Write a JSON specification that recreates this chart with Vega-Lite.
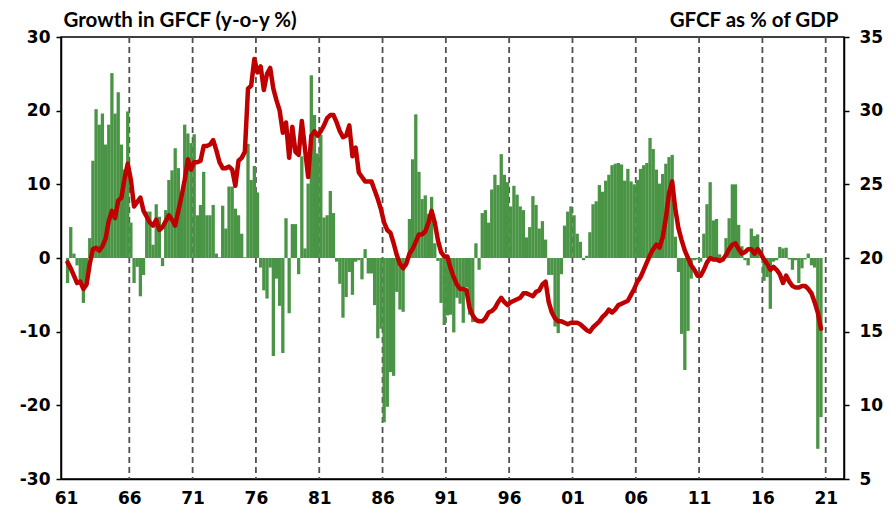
{
  "$schema": "https://vega.github.io/schema/vega-lite/v6.json",
  "width": 783,
  "height": 442,
  "autosize": {"type": "none"},
  "padding": {"left": 61, "top": 37, "right": 51, "bottom": 34},
  "background": "white",
  "config": {
    "view": {"stroke": "black", "strokeWidth": 1.5},
    "axis": {"labelFont": "DejaVu Sans", "labelFontWeight": "bold", "labelFontSize": 17, "labelColor": "black", "domainColor": "black", "domainWidth": 1.5, "tickColor": "black", "tickWidth": 1.5, "grid": false, "titleColor": "black"}
  },
  "datasets": {
    "years": [{"yr":1966},{"yr":1971},{"yr":1976},{"yr":1981},{"yr":1986},{"yr":1991},{"yr":1996},{"yr":2001},{"yr":2006},{"yr":2011},{"yr":2016},{"yr":2021}],
    "q": [
      {"t":1961.125,"g":-3.4,"s":19.7},{"t":1961.375,"g":4.2,"s":19.3},{"t":1961.625,"g":0.6,"s":18.8},{"t":1961.875,"g":-1.0,"s":18.3},
      {"t":1962.125,"g":-3.5,"s":18.4},{"t":1962.375,"g":-6.1,"s":17.9},{"t":1962.625,"g":-3.0,"s":18.2},{"t":1962.875,"g":2.7,"s":19.6},
      {"t":1963.125,"g":13.2,"s":20.6},{"t":1963.375,"g":20.2,"s":20.7},{"t":1963.625,"g":18.1,"s":20.5},{"t":1963.875,"g":19.6,"s":20.8},
      {"t":1964.125,"g":15.4,"s":21.3},{"t":1964.375,"g":18.1,"s":22.5},{"t":1964.625,"g":25.1,"s":23.2},{"t":1964.875,"g":19.6,"s":22.7},
      {"t":1965.125,"g":22.5,"s":23.9},{"t":1965.375,"g":15.4,"s":24.1},{"t":1965.625,"g":12.0,"s":25.4},{"t":1965.875,"g":19.9,"s":26.4},
      {"t":1966.125,"g":4.8,"s":25.3},{"t":1966.375,"g":-3.4,"s":23.5},{"t":1966.625,"g":-1.2,"s":23.8},{"t":1966.875,"g":-5.2,"s":24.1},
      {"t":1967.125,"g":-2.3,"s":23.2},{"t":1967.375,"g":6.3,"s":22.8},{"t":1967.625,"g":6.3,"s":22.4},{"t":1967.875,"g":1.8,"s":22.2},
      {"t":1968.125,"g":7.3,"s":22.6},{"t":1968.375,"g":5.6,"s":21.9},{"t":1968.625,"g":-1.1,"s":22.1},{"t":1968.875,"g":6.5,"s":22.5},
      {"t":1969.125,"g":10.6,"s":22.9},{"t":1969.375,"g":11.9,"s":22.6},{"t":1969.625,"g":14.9,"s":22.2},{"t":1969.875,"g":12.2,"s":23.2},
      {"t":1970.125,"g":8.0,"s":24.2},{"t":1970.375,"g":18.1,"s":25.3},{"t":1970.625,"g":16.9,"s":26.7},{"t":1970.875,"g":15.6,"s":26.0},
      {"t":1971.125,"g":16.8,"s":26.5},{"t":1971.375,"g":5.8,"s":26.5},{"t":1971.625,"g":7.2,"s":26.6},{"t":1971.875,"g":11.7,"s":27.6},
      {"t":1972.125,"g":5.8,"s":27.6},{"t":1972.375,"g":5.8,"s":27.7},{"t":1972.625,"g":7.2,"s":28.0},{"t":1972.875,"g":0.6,"s":27.3},
      {"t":1973.125,"g":0.1,"s":26.5},{"t":1973.375,"g":7.1,"s":26.1},{"t":1973.625,"g":4.0,"s":26.1},{"t":1973.875,"g":9.7,"s":26.2},
      {"t":1974.125,"g":9.7,"s":26.0},{"t":1974.375,"g":6.7,"s":24.9},{"t":1974.625,"g":5.8,"s":26.6},{"t":1974.875,"g":3.3,"s":26.8},
      {"t":1975.125,"g":0.1,"s":27.2},{"t":1975.375,"g":15.5,"s":31.5},{"t":1975.625,"g":10.6,"s":31.7},{"t":1975.875,"g":12.5,"s":33.5},
      {"t":1976.125,"g":8.9,"s":32.6},{"t":1976.375,"g":-1.3,"s":33.0},{"t":1976.625,"g":-4.4,"s":31.4},{"t":1976.875,"g":-5.5,"s":32.5},
      {"t":1977.125,"g":-1.3,"s":32.9},{"t":1977.375,"g":-13.3,"s":31.5},{"t":1977.625,"g":-2.8,"s":30.7},{"t":1977.875,"g":-6.5,"s":30.0},
      {"t":1978.125,"g":-12.9,"s":28.5},{"t":1978.375,"g":5.4,"s":29.2},{"t":1978.625,"g":-7.5,"s":26.8},{"t":1978.875,"g":4.6,"s":28.9},
      {"t":1979.125,"g":4.6,"s":27.2},{"t":1979.375,"g":-2.2,"s":27.0},{"t":1979.625,"g":13.8,"s":29.3},{"t":1979.875,"g":1.3,"s":27.4},
      {"t":1980.125,"g":10.1,"s":25.5},{"t":1980.375,"g":24.8,"s":28.3},{"t":1980.625,"g":19.4,"s":28.6},{"t":1980.875,"g":14.2,"s":28.3},
      {"t":1981.125,"g":16.7,"s":28.6},{"t":1981.375,"g":5.5,"s":29.0},{"t":1981.625,"g":5.8,"s":29.5},{"t":1981.875,"g":9.1,"s":29.7},
      {"t":1982.125,"g":6.1,"s":29.7},{"t":1982.375,"g":-0.5,"s":29.2},{"t":1982.625,"g":-3.5,"s":28.6},{"t":1982.875,"g":-8.1,"s":28.2},
      {"t":1983.125,"g":-5.3,"s":28.3},{"t":1983.375,"g":-1.9,"s":29.0},{"t":1983.625,"g":-5.0,"s":26.9},{"t":1983.875,"g":-0.5,"s":27.5},
      {"t":1984.125,"g":-0.3,"s":25.8},{"t":1984.375,"g":-2.9,"s":25.5},{"t":1984.625,"g":1.2,"s":25.2},{"t":1984.875,"g":-2.1,"s":25.2},
      {"t":1985.125,"g":-2.1,"s":25.2},{"t":1985.375,"g":-6.4,"s":24.6},{"t":1985.625,"g":-10.9,"s":24.0},{"t":1985.875,"g":-9.6,"s":23.3},
      {"t":1986.125,"g":-22.3,"s":22.4},{"t":1986.375,"g":-20.2,"s":21.9},{"t":1986.625,"g":-15.5,"s":21.7},{"t":1986.875,"g":-16.0,"s":21.0},
      {"t":1987.125,"g":-4.6,"s":20.2},{"t":1987.375,"g":-7.0,"s":19.6},{"t":1987.625,"g":-7.3,"s":19.3},{"t":1987.875,"g":-1.0,"s":19.6},
      {"t":1988.125,"g":5.3,"s":20.3},{"t":1988.375,"g":13.4,"s":20.6},{"t":1988.625,"g":19.5,"s":21.1},{"t":1988.875,"g":11.7,"s":21.6},
      {"t":1989.125,"g":8.0,"s":21.6},{"t":1989.375,"g":8.5,"s":21.8},{"t":1989.625,"g":6.0,"s":22.4},{"t":1989.875,"g":8.3,"s":23.2},
      {"t":1990.125,"g":2.0,"s":22.4},{"t":1990.375,"g":-0.4,"s":21.2},{"t":1990.625,"g":-6.1,"s":20.4},{"t":1990.875,"g":-9.1,"s":20.1},
      {"t":1991.125,"g":-7.8,"s":20.1},{"t":1991.375,"g":-7.7,"s":19.3},{"t":1991.625,"g":-10.1,"s":18.7},{"t":1991.875,"g":-5.4,"s":18.2},
      {"t":1992.125,"g":-6.2,"s":17.9},{"t":1992.375,"g":-8.8,"s":17.9},{"t":1992.625,"g":-4.0,"s":17.8},{"t":1992.875,"g":-7.7,"s":16.6},
      {"t":1993.125,"g":-8.7,"s":16.1},{"t":1993.375,"g":2.0,"s":15.8},{"t":1993.625,"g":-1.6,"s":15.7},{"t":1993.875,"g":6.1,"s":15.7},
      {"t":1994.125,"g":6.5,"s":15.9},{"t":1994.375,"g":4.8,"s":16.3},{"t":1994.625,"g":9.3,"s":16.4},{"t":1994.875,"g":11.3,"s":16.6},
      {"t":1995.125,"g":9.9,"s":17.0},{"t":1995.375,"g":14.1,"s":17.3},{"t":1995.625,"g":11.3,"s":17.0},{"t":1995.875,"g":10.3,"s":16.8},
      {"t":1996.125,"g":7.0,"s":17.0},{"t":1996.375,"g":9.8,"s":17.1},{"t":1996.625,"g":8.6,"s":17.2},{"t":1996.875,"g":7.0,"s":17.3},
      {"t":1997.125,"g":6.5,"s":17.6},{"t":1997.375,"g":2.8,"s":17.6},{"t":1997.625,"g":4.2,"s":17.5},{"t":1997.875,"g":8.4,"s":17.4},
      {"t":1998.125,"g":7.2,"s":17.7},{"t":1998.375,"g":4.0,"s":17.8},{"t":1998.625,"g":5.0,"s":18.2},{"t":1998.875,"g":2.5,"s":18.4},
      {"t":1999.125,"g":-2.3,"s":17.0},{"t":1999.375,"g":-2.3,"s":16.3},{"t":1999.625,"g":-9.3,"s":15.9},{"t":1999.875,"g":-10.2,"s":15.7},
      {"t":2000.125,"g":-2.2,"s":15.7},{"t":2000.375,"g":4.4,"s":15.6},{"t":2000.625,"g":6.3,"s":15.5},{"t":2000.875,"g":7.0,"s":15.6},
      {"t":2001.125,"g":5.8,"s":15.6},{"t":2001.375,"g":3.3,"s":15.6},{"t":2001.625,"g":2.2,"s":15.5},{"t":2001.875,"g":-0.3,"s":15.3},
      {"t":2002.125,"g":0.3,"s":15.1},{"t":2002.375,"g":3.5,"s":15.0},{"t":2002.625,"g":7.3,"s":15.3},{"t":2002.875,"g":7.7,"s":15.5},
      {"t":2003.125,"g":9.9,"s":15.7},{"t":2003.375,"g":9.0,"s":16.0},{"t":2003.625,"g":10.5,"s":16.2},{"t":2003.875,"g":11.3,"s":16.5},
      {"t":2004.125,"g":12.6,"s":16.3},{"t":2004.375,"g":12.8,"s":16.5},{"t":2004.625,"g":12.9,"s":16.8},{"t":2004.875,"g":12.7,"s":16.9},
      {"t":2005.125,"g":10.5,"s":17.0},{"t":2005.375,"g":12.1,"s":17.1},{"t":2005.625,"g":10.4,"s":17.5},{"t":2005.875,"g":10.0,"s":17.9},
      {"t":2006.125,"g":10.6,"s":18.4},{"t":2006.375,"g":12.1,"s":18.7},{"t":2006.625,"g":12.6,"s":19.2},{"t":2006.875,"g":12.9,"s":19.7},
      {"t":2007.125,"g":16.3,"s":20.2},{"t":2007.375,"g":14.8,"s":20.6},{"t":2007.625,"g":12.0,"s":20.9},{"t":2007.875,"g":10.1,"s":20.7},
      {"t":2008.125,"g":11.4,"s":21.4},{"t":2008.375,"g":12.8,"s":22.7},{"t":2008.625,"g":13.7,"s":24.4},{"t":2008.875,"g":14.0,"s":25.2},
      {"t":2009.125,"g":2.9,"s":23.3},{"t":2009.375,"g":-1.9,"s":22.0},{"t":2009.625,"g":-10.3,"s":21.2},{"t":2009.875,"g":-15.2,"s":20.5},
      {"t":2010.125,"g":-9.9,"s":20.0},{"t":2010.375,"g":-2.8,"s":19.5},{"t":2010.625,"g":-0.3,"s":19.2},{"t":2010.875,"g":-0.2,"s":18.8},
      {"t":2011.125,"g":-0.5,"s":18.8},{"t":2011.375,"g":3.3,"s":19.2},{"t":2011.625,"g":7.3,"s":19.7},{"t":2011.875,"g":10.3,"s":20.0},
      {"t":2012.125,"g":5.1,"s":19.9},{"t":2012.375,"g":5.3,"s":19.9},{"t":2012.625,"g":0.5,"s":19.8},{"t":2012.875,"g":-0.3,"s":19.9},
      {"t":2013.125,"g":2.7,"s":20.2},{"t":2013.375,"g":5.4,"s":20.6},{"t":2013.625,"g":10.0,"s":20.9},{"t":2013.875,"g":10.0,"s":21.0},
      {"t":2014.125,"g":4.5,"s":20.6},{"t":2014.375,"g":1.6,"s":20.3},{"t":2014.625,"g":-0.3,"s":20.4},{"t":2014.875,"g":-1.0,"s":20.6},
      {"t":2015.125,"g":4.0,"s":20.6},{"t":2015.375,"g":3.0,"s":20.3},{"t":2015.625,"g":3.2,"s":20.6},{"t":2015.875,"g":0.2,"s":20.3},
      {"t":2016.125,"g":-3.1,"s":19.9},{"t":2016.375,"g":-2.6,"s":19.6},{"t":2016.625,"g":-6.9,"s":19.2},{"t":2016.875,"g":-0.5,"s":19.4},
      {"t":2017.125,"g":-0.3,"s":19.2},{"t":2017.375,"g":1.5,"s":18.9},{"t":2017.625,"g":1.3,"s":18.3},{"t":2017.875,"g":1.4,"s":18.8},
      {"t":2018.125,"g":-0.2,"s":18.4},{"t":2018.375,"g":-1.6,"s":18.1},{"t":2018.625,"g":-0.3,"s":18.0},{"t":2018.875,"g":-3.4,"s":18.0},
      {"t":2019.125,"g":-1.4,"s":18.1},{"t":2019.375,"g":-0.2,"s":18.1},{"t":2019.625,"g":0.6,"s":17.9},{"t":2019.875,"g":-1.0,"s":17.6},
      {"t":2020.125,"g":-1.3,"s":17.0},{"t":2020.375,"g":-25.9,"s":16.3},{"t":2020.625,"g":-21.6,"s":15.2}
    ]
  },
  "layer": [
    {
      "data": {"name": "years"},
      "mark": {"type": "rule", "color": "#505050", "strokeWidth": 1.8, "strokeDash": [6, 4]},
      "encoding": {
        "x": {"field": "yr", "type": "quantitative",
          "scale": {"domain": [1961, 2022.05], "nice": false, "zero": false},
          "axis": {"values": [1961,1966,1971,1976,1981,1986,1991,1996,2001,2006,2011,2016,2021], "labelExpr": "slice(toString(datum.value), 2)", "ticks": false, "labelPadding": 11, "title": null, "labelFlush": false, "labelOverlap": false}}
      }
    },
    {
      "layer": [
        {
          "data": {"name": "q"},
          "mark": {"type": "bar", "color": "#4A9446", "size": 3.3},
          "encoding": {
            "x": {"field": "t", "type": "quantitative"},
            "y": {"field": "g", "type": "quantitative",
              "scale": {"domain": [-30, 30], "nice": false},
              "axis": {"values": [-30,-20,-10,0,10,20,30], "labelExpr": "datum.value < 0 ? '-' + abs(datum.value) : '' + datum.value", "tickSize": 5, "labelPadding": 6,
                "title": "Growth in GFCF (y-o-y %)", "titleAngle": 0, "titleAlign": "left", "titleBaseline": "alphabetic",
                "titleX": 2, "titleY": -11, "titleFont": "Lato", "titleFontSize": 20.5, "titleFontWeight": "bold"}}
          }
        },
        {
          "mark": {"type": "rule", "color": "black", "strokeWidth": 2},
          "encoding": {"y": {"datum": 0}}
        }
      ]
    },
    {
      "data": {"name": "q"},
      "mark": {"type": "line", "color": "#C00000", "strokeWidth": 4.5, "strokeJoin": "round", "strokeCap": "round"},
      "encoding": {
        "x": {"field": "t", "type": "quantitative"},
        "y": {"field": "s", "type": "quantitative",
          "scale": {"domain": [5, 35], "nice": false, "zero": false},
          "axis": {"orient": "right", "values": [5,10,15,20,25,30,35], "tickSize": 5, "labelPadding": 10,
            "title": "GFCF as % of GDP", "titleAngle": 0, "titleAlign": "right", "titleBaseline": "alphabetic",
            "titleX": -6, "titleY": -11, "titleFont": "Lato", "titleFontSize": 20.5, "titleFontWeight": "bold"}}
      }
    }
  ],
  "resolve": {"scale": {"y": "independent"}}
}
